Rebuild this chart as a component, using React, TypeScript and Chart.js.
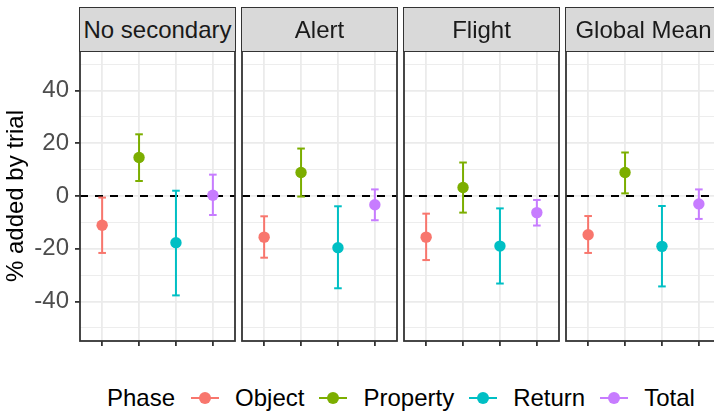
import React, { useEffect, useRef } from "react";
import { Chart, registerables } from "chart.js";

Chart.register(...registerables);

// ---------------- data ----------------
const facets = ["No secondary", "Alert", "Flight", "Global Mean"];
const phases = ["Object", "Property", "Return", "Total"];
const phaseColors = ["#F8766D", "#7CAE00", "#00BFC4", "#C77CFF"];

// mean per facet (rows) and phase (columns)
const means = [
  [-11.1, 14.6, -17.7, 0.3],
  [-15.6, 8.9, -19.6, -3.3],
  [-15.6, 3.2, -19.0, -6.3],
  [-14.7, 8.9, -19.1, -3.0],
];
const lowerCI = [
  [-21.6, 5.7, -37.7, -7.2],
  [-23.4, -0.2, -35.0, -9.2],
  [-24.3, -6.3, -33.2, -11.2],
  [-21.6, 1.0, -34.3, -8.7],
];
const upperCI = [
  [-0.6, 23.4, 2.0, 8.1],
  [-7.7, 18.0, -3.9, 2.5],
  [-6.7, 12.7, -4.7, -1.5],
  [-7.6, 16.5, -3.8, 2.5],
];
const yGridValues = [-50, -40, -30, -20, -10, 0, 10, 20, 30, 40, 50];
const yLabelValues = [-40, -20, 0, 20, 40];
const referenceLine = [0];
const yTitle = "% added by trial";
const legendTitle = "Phase";

// ---------------- layout ----------------
const FONT = "'Liberation Sans', Arial, Helvetica, sans-serif";
const Y_MIN = -55;
const Y_MAX = 55;
const X_MIN = 0.4;
const X_MAX = 4.6;
const PANEL_LEFT = [80, 242, 404, 566];
const PANEL_W = 155;
const PANEL_TOP = 51;
const PANEL_BOTTOM = 341;
const CANVAS_TOP = 44;
const X_AXIS_H = 12;
const SIDE_PAD = 6;
const AXIS_W_FIRST = 80;
const STRIP_TOP = 7;
const STRIP_H = 45;
const LINE_GREY = "#333333";

const panelBorder = {
  id: "panelBorder",
  afterDraw(chart: any) {
    const { ctx, chartArea: a } = chart;
    ctx.save();
    ctx.strokeStyle = LINE_GREY;
    ctx.lineWidth = 1.8;
    ctx.strokeRect(a.left, a.top, a.right - a.left, a.bottom - a.top);
    ctx.restore();
  },
};

function FacetChart({ index }: { index: number }) {
  const ref = useRef<HTMLCanvasElement>(null);
  const isFirst = index === 0;
  const axisW = isFirst ? AXIS_W_FIRST : SIDE_PAD;
  const width = axisW + PANEL_W + SIDE_PAD;
  const height = PANEL_BOTTOM + X_AXIS_H - CANVAS_TOP;

  useEffect(() => {
    const canvas = ref.current!;
    const zeroLine = {
      type: "line",
      data: [
        { x: X_MIN, y: referenceLine[0] },
        { x: X_MAX, y: referenceLine[0] },
      ],
      borderColor: "#000000",
      borderWidth: 2,
      borderDash: [8, 7],
      pointRadius: 0,
      order: 3,
    };
    const errorBars = phases.map((_, j) => ({
      type: "line",
      data: [
        { x: j + 1, y: lowerCI[index][j] },
        { x: j + 1, y: upperCI[index][j] },
      ],
      borderColor: phaseColors[j],
      borderWidth: 2,
      pointStyle: "line",
      pointRadius: 3.8,
      pointBorderWidth: 2,
      pointBorderColor: phaseColors[j],
      pointBackgroundColor: phaseColors[j],
      order: 2,
    }));
    const points = {
      type: "line",
      showLine: false,
      data: phases.map((_, j) => ({ x: j + 1, y: means[index][j] })),
      pointRadius: 5.7,
      pointBackgroundColor: phaseColors,
      pointBorderColor: phaseColors,
      pointBorderWidth: 0,
      order: 1,
    };

    const chart = new Chart(canvas, {
      type: "line",
      data: { datasets: [zeroLine, ...errorBars, points] as any },
      options: {
        responsive: false,
        animation: false,
        events: [],
        layout: {
          padding: { top: PANEL_TOP - CANVAS_TOP, right: SIDE_PAD, left: 0, bottom: 0 },
        },
        plugins: {
          legend: { display: false },
          tooltip: { enabled: false },
          title: { display: false },
        },
        scales: {
          x: {
            type: "linear",
            min: X_MIN,
            max: X_MAX,
            afterBuildTicks: (ax: any) => {
              ax.ticks = phases.map((_, j) => ({ value: j + 1 }));
            },
            afterFit: (ax: any) => {
              ax.height = X_AXIS_H;
              ax.paddingLeft = 0;
              ax.paddingRight = 0;
            },
            ticks: { display: true, autoSkip: false, callback: () => "" },
            grid: {
              color: "#EBEBEB",
              lineWidth: 1.8,
              drawTicks: true,
              tickColor: LINE_GREY,
              tickWidth: 1.8,
              tickLength: 5,
            },
            border: { display: false },
          },
          y: {
            type: "linear",
            min: Y_MIN,
            max: Y_MAX,
            afterBuildTicks: (ax: any) => {
              ax.ticks = yGridValues.map((v) => ({ value: v }));
            },
            afterFit: (ax: any) => {
              ax.width = axisW;
              ax.paddingTop = 0;
              ax.paddingBottom = 0;
            },
            ticks: {
              display: isFirst,
              autoSkip: false,
              padding: 6,
              color: "#4D4D4D",
              font: { family: FONT, size: 24 },
              callback: (v: any) => (yLabelValues.includes(Number(v)) ? String(v) : ""),
            },
            grid: {
              color: "#EBEBEB",
              lineWidth: (c: any) => (c.tick && yLabelValues.includes(c.tick.value) ? 1.8 : 0.9),
              drawTicks: isFirst,
              tickColor: (c: any) =>
                c.tick && yLabelValues.includes(c.tick.value) ? LINE_GREY : "rgba(0,0,0,0)",
              tickWidth: 1.8,
              tickLength: 5,
            },
            border: { display: false },
            title: {
              display: isFirst,
              text: yTitle,
              color: "#000000",
              font: { family: FONT, size: 24 },
              padding: { top: 2, bottom: 0 },
            },
          },
        },
      } as any,
      plugins: [panelBorder],
    });
    return () => chart.destroy();
  }, [index]);

  return (
    <canvas
      ref={ref}
      width={width}
      height={height}
      style={{
        position: "absolute",
        left: PANEL_LEFT[index] - axisW,
        top: CANVAS_TOP,
        width,
        height,
      }}
    />
  );
}

function Strip({ index }: { index: number }) {
  return (
    <div
      style={{
        position: "absolute",
        left: PANEL_LEFT[index] - 0.9,
        top: STRIP_TOP,
        width: PANEL_W + 1.8,
        height: STRIP_H,
        boxSizing: "border-box",
        border: `1.8px solid ${LINE_GREY}`,
        background: "#D9D9D9",
        display: "flex",
        alignItems: "center",
        justifyContent: "center",
        fontFamily: FONT,
        fontSize: 24,
        color: "#1A1A1A",
        whiteSpace: "nowrap",
        overflow: "hidden",
      }}
    >
      {facets[index]}
    </div>
  );
}

function LegendKey({ color }: { color: string }) {
  return (
    <div style={{ position: "relative", width: 28, height: 14, flex: "0 0 28px" }}>
      <div
        style={{
          position: "absolute",
          left: 0,
          top: 6,
          width: 28,
          height: 2,
          background: color,
        }}
      />
      <div
        style={{
          position: "absolute",
          left: 8,
          top: 1,
          width: 12,
          height: 12,
          borderRadius: "50%",
          background: color,
        }}
      />
    </div>
  );
}

function Legend() {
  return (
    <div
      style={{
        position: "absolute",
        left: 107,
        top: 383,
        height: 30,
        display: "flex",
        alignItems: "center",
        fontFamily: FONT,
        fontSize: 24,
        color: "#000000",
        whiteSpace: "nowrap",
      }}
    >
      <span style={{ marginRight: 16 }}>{legendTitle}</span>
      {phases.map((p, j) => (
        <React.Fragment key={p}>
          <LegendKey color={phaseColors[j]} />
          <span style={{ marginLeft: 16, marginRight: j < phases.length - 1 ? 15 : 0 }}>{p}</span>
        </React.Fragment>
      ))}
    </div>
  );
}

export default function App() {
  return (
    <div
      style={{
        position: "fixed",
        left: 0,
        top: 0,
        width: 714,
        height: 413,
        overflow: "hidden",
        background: "#FFFFFF",
      }}
    >
      {facets.map((f, i) => (
        <FacetChart key={f} index={i} />
      ))}
      {facets.map((f, i) => (
        <Strip key={"s" + f} index={i} />
      ))}
      <Legend />
    </div>
  );
}
